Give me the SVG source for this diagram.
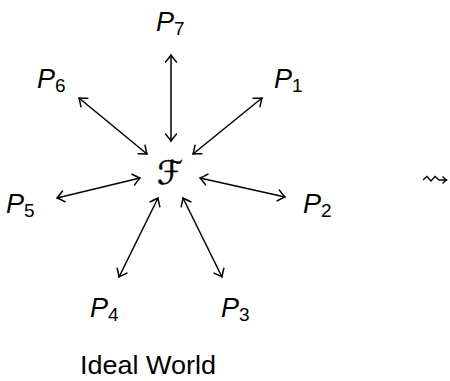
<svg xmlns="http://www.w3.org/2000/svg" width="450" height="381" viewBox="0 0 450 381">
<style>
.lbl{font-family:"Liberation Sans",Arial,sans-serif;font-style:italic;font-size:27px;fill:#000}
.sub{font-style:normal;font-size:19px}
.conn line{stroke:#000;stroke-width:1.5;fill:none;marker-start:url(#tip);marker-end:url(#tip)}
</style>
<defs>
<marker id="tip" viewBox="-9 -7 11 14" markerWidth="11" markerHeight="14" refX="0" refY="0" orient="auto-start-reverse" markerUnits="userSpaceOnUse">
<path d="M-7,-5.5 Q-2,-1.3 0,0 Q-2,1.3 -7,5.5" fill="none" stroke="#000" stroke-width="1.5" stroke-linecap="round"/>
</marker>
</defs>
<g id="F"><text x="170" y="184" text-anchor="middle" style="font-family:'DejaVu Sans',sans-serif;font-size:33px;stroke:#000;stroke-width:0.4">ℱ</text></g>
<g id="P7"><text class="lbl" x="156" y="31">P<tspan class="sub" dy="4">7</tspan></text></g>
<g id="P6"><text class="lbl" x="37" y="88">P<tspan class="sub" dy="4">6</tspan></text></g>
<g id="P1"><text class="lbl" x="274" y="88">P<tspan class="sub" dy="4">1</tspan></text></g>
<g id="P5"><text class="lbl" x="6" y="213">P<tspan class="sub" dy="4">5</tspan></text></g>
<g id="P2"><text class="lbl" x="303" y="213">P<tspan class="sub" dy="4">2</tspan></text></g>
<g id="P4"><text class="lbl" x="90" y="317">P<tspan class="sub" dy="4">4</tspan></text></g>
<g id="P3"><text class="lbl" x="221" y="317">P<tspan class="sub" dy="4">3</tspan></text></g>
<g id="caption"><text x="80" y="374" textLength="136" lengthAdjust="spacingAndGlyphs" style="font-family:'Liberation Sans',Arial,sans-serif;font-size:26px">Ideal World</text></g>
<g id="leadsto"><path d="M423,180 L427,176.5 L431,181 L435,176.5 L439,180 L446,180 M442.5,176.5 Q445,179.2 446.8,180 Q445,180.8 442.5,183.5" fill="none" stroke="#000" stroke-width="1.3"/></g>
<g class="conn" id="connectors">
<line x1="171" y1="141" x2="171" y2="55"/>
<line x1="147" y1="154" x2="79" y2="98"/>
<line x1="193" y1="154" x2="262" y2="98"/>
<line x1="140" y1="178" x2="57" y2="198"/>
<line x1="200" y1="178" x2="285" y2="197"/>
<line x1="158" y1="198" x2="119" y2="277"/>
<line x1="183" y1="198" x2="222" y2="277"/>
</g>
</svg>
